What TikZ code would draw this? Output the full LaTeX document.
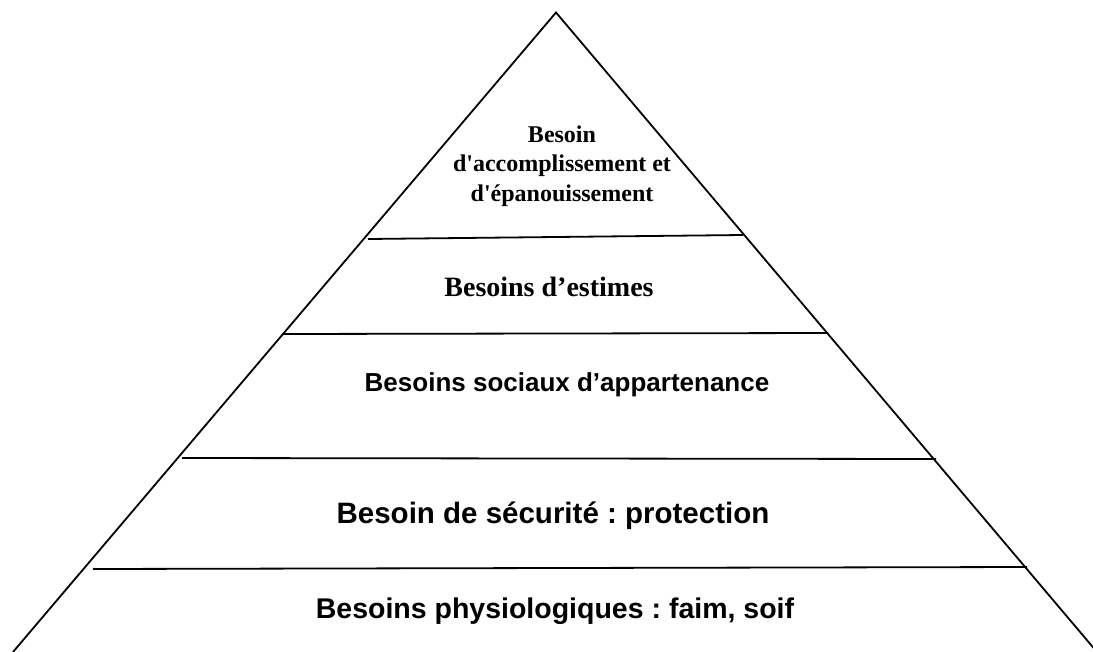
\documentclass[tikz,border=0pt]{standalone}
\usepackage{fontspec}
\newfontfamily\timesbold{Liberation Serif}[BoldFont={* Bold}]
\newfontfamily\arialbold{Liberation Sans}[BoldFont={* Bold}]
\frenchspacing
\begin{document}
\begin{tikzpicture}[x=1pt,y=-1pt,
  edge/.style={line width=1.8pt,black},
  tier/.style={line width=1.8pt,black},
  serif/.style={font=\timesbold\bfseries\fontsize{24}{29.5}\selectfont,align=center,inner sep=0pt},
  serifbig/.style={font=\timesbold\bfseries\fontsize{28}{30}\selectfont,inner sep=0pt},
  sans/.style={font=\arialbold\bfseries\fontsize{26}{30}\selectfont,inner sep=0pt},
  sansbig/.style={font=\arialbold\bfseries\fontsize{28.5}{32}\selectfont,inner sep=0pt}]
\useasboundingbox (0,0) rectangle (1093,651);
% outline of the pyramid
\coordinate (apex) at (556,12.5);
\coordinate (bl) at (13,652);
\coordinate (br) at (1097,652);
\draw[edge,line join=miter] (bl) -- (apex) -- (br);
% dividing lines between the tiers
\coordinate (l1a) at (368,239);  \coordinate (l1b) at (743,235);
\coordinate (l2a) at (282,334);  \coordinate (l2b) at (828,333);
\coordinate (l3a) at (182,458);  \coordinate (l3b) at (936,459);
\coordinate (l4a) at (93,569);   \coordinate (l4b) at (1027,567);
\draw[tier] (l1a) -- (l1b);
\draw[tier] (l2a) -- (l2b);
\draw[tier] (l3a) -- (l3b);
\draw[tier] (l4a) -- (l4b);
% tier labels
\node[serif] (t1) at (562,166) {Besoin\\d'accomplissement et\\d'épanouissement};
\node[serifbig] (t2) at (549,287) {Besoins d’estimes};
\node[sans] (t3) at (567,385) {Besoins sociaux d’appartenance};
\node[sansbig,font=\arialbold\bfseries\fontsize{29.5}{32}\selectfont] (t4) at (553,516) {Besoin de sécurité : protection};
\node[sansbig] (t5) at (555,611) {Besoins physiologiques : faim, soif};
\end{tikzpicture}
\end{document}
